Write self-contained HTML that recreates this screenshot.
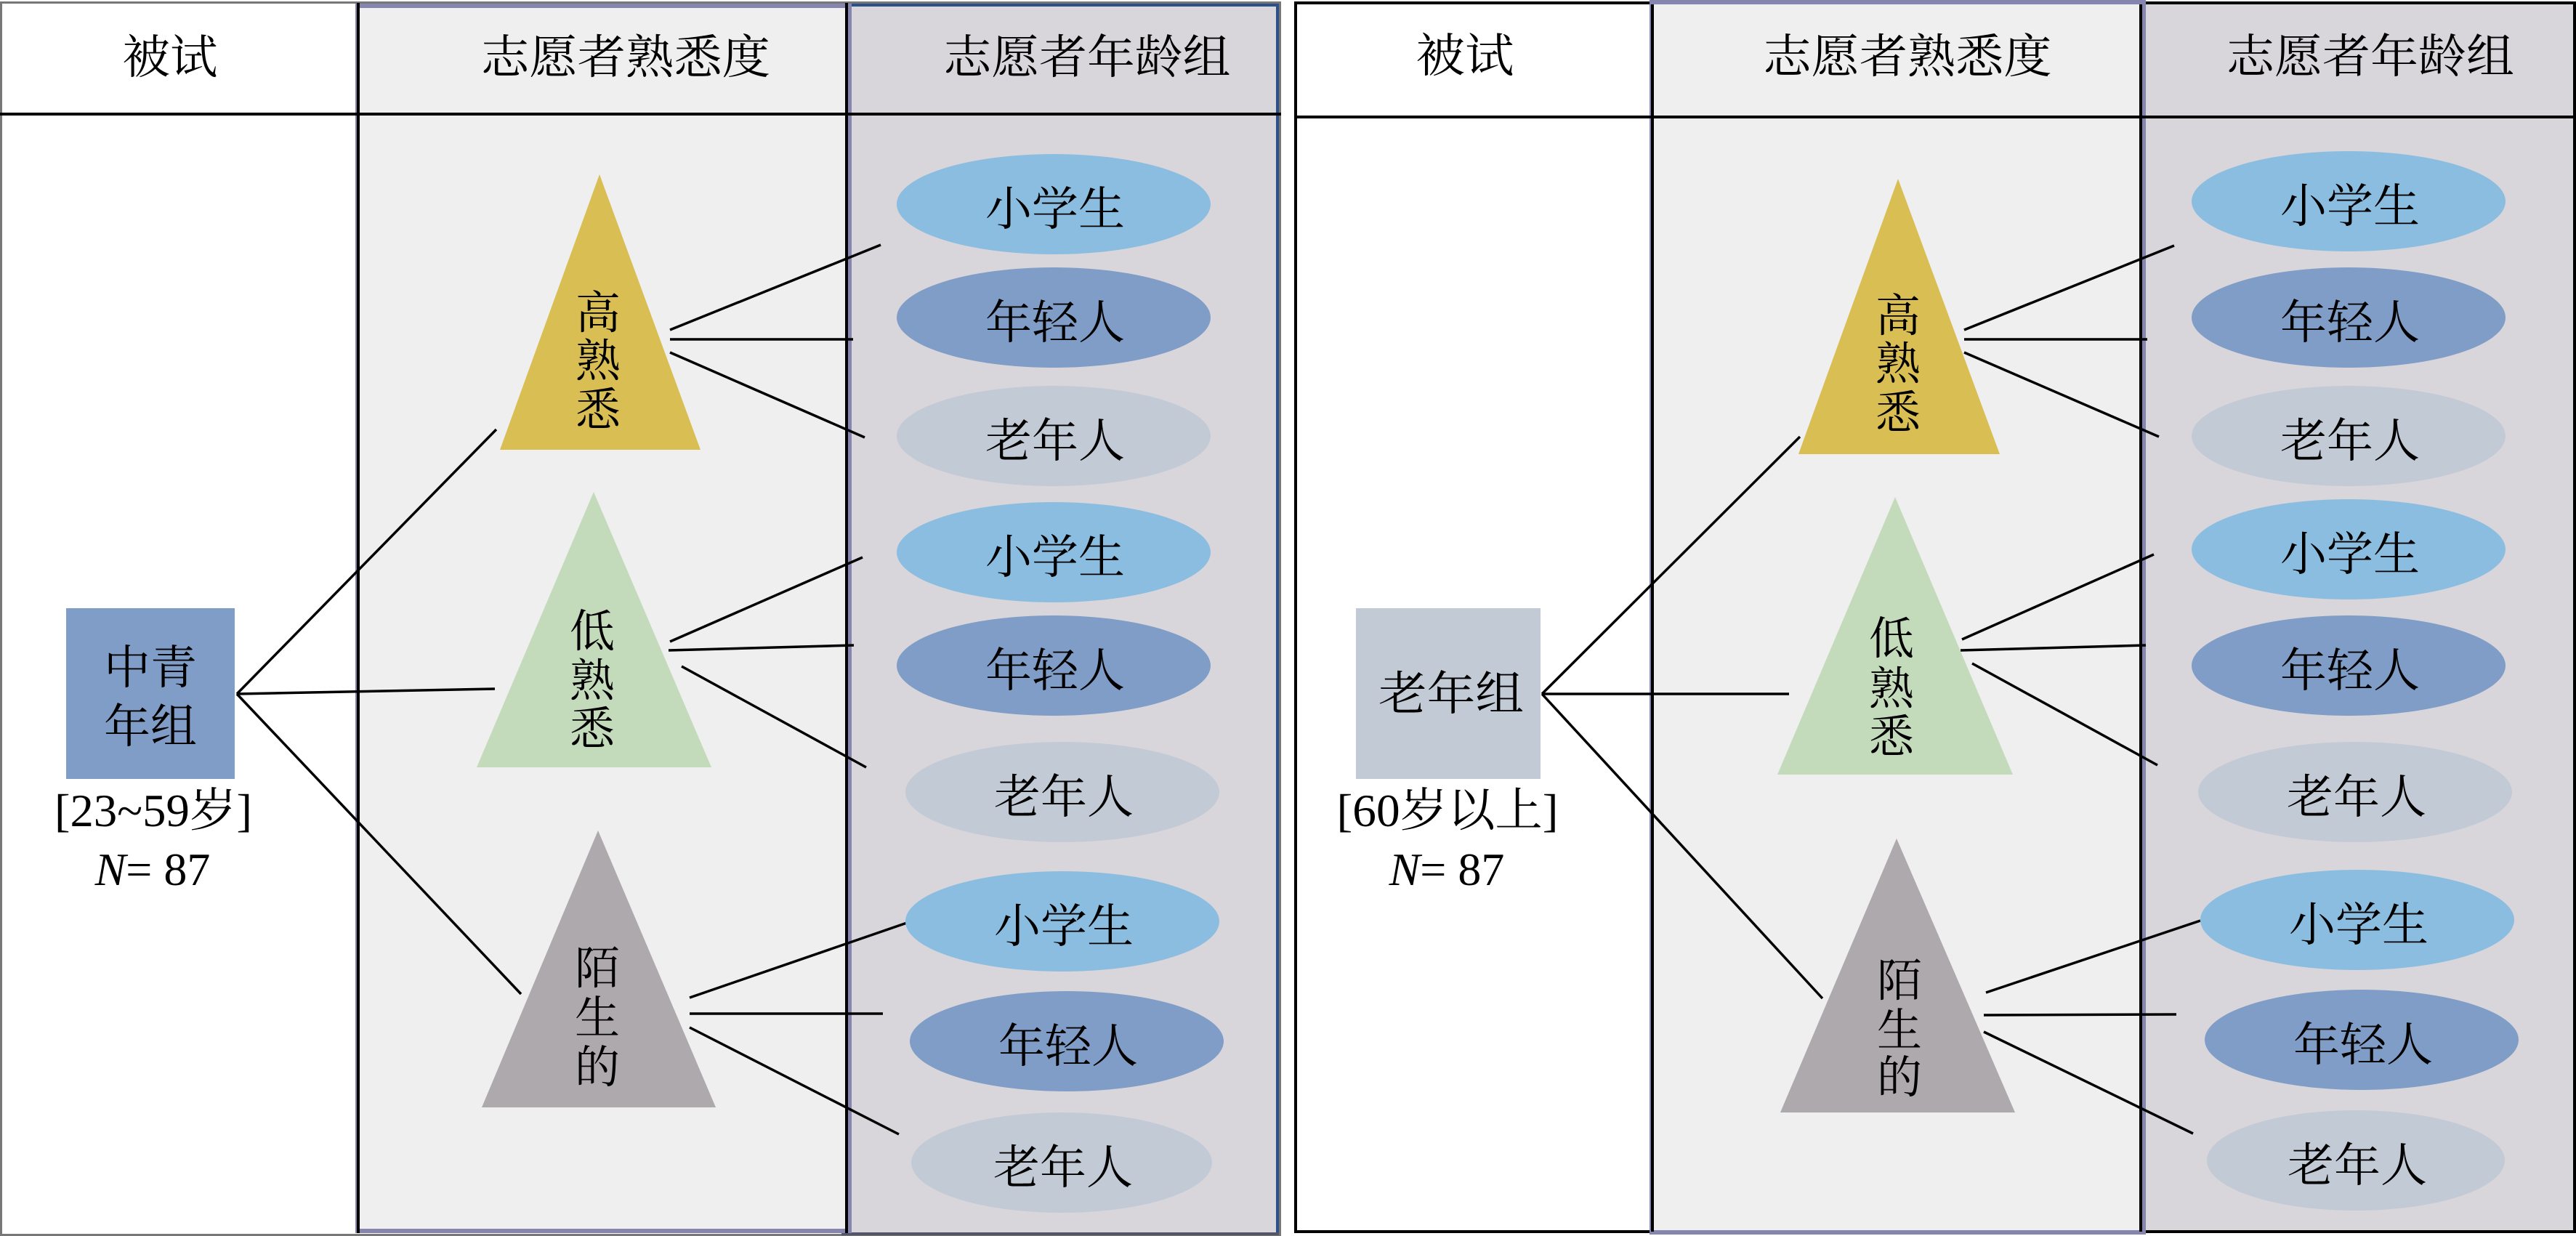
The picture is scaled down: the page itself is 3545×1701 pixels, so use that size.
<!DOCTYPE html>
<html>
<head>
<meta charset="utf-8">
<style>
html,body{margin:0;padding:0;background:#fff;}
svg{display:block;}
.cj{font-family:"Liberation Serif","Noto Serif CJK SC","Noto Sans CJK SC",serif;fill:#000;}
</style>
</head>
<body>
<svg width="3545" height="1701" viewBox="0 0 3545 1701" xmlns="http://www.w3.org/2000/svg">
<rect x="0" y="0" width="3545" height="1701" fill="#ffffff"/>

<!-- ===== LEFT PANEL ===== -->
<rect x="1.5" y="3.5" width="1760" height="1696" fill="#ffffff" stroke="#777777" stroke-width="3"/>
<rect x="1167" y="7" width="591" height="1691" fill="#D8D6DA" stroke="#2E5088" stroke-width="4"/>
<rect x="1158" y="1696" width="602" height="4" fill="#55556A"/>
<rect x="492" y="8" width="677" height="1686" fill="#EFEFEF" stroke="#8585B0" stroke-width="6"/>
<line x1="493" y1="4" x2="493" y2="1697" stroke="#000" stroke-width="4"/>
<line x1="1165" y1="4" x2="1165" y2="1697" stroke="#000" stroke-width="4"/>
<line x1="0" y1="157" x2="1763" y2="157" stroke="#000" stroke-width="4"/>

<!-- headers -->
<text class="cj" x="234" y="101" font-size="64" text-anchor="middle" textLength="131" lengthAdjust="spacingAndGlyphs">被试</text>
<text class="cj" x="861" y="101" font-size="64" text-anchor="middle" textLength="398" lengthAdjust="spacingAndGlyphs">志愿者熟悉度</text>
<text class="cj" x="1496" y="101" font-size="64" text-anchor="middle" textLength="395" lengthAdjust="spacingAndGlyphs">志愿者年龄组</text>

<!-- connectors -->
<g stroke="#000" stroke-width="3.5" fill="none">
<line x1="326" y1="955" x2="683" y2="591"/>
<line x1="326" y1="955" x2="681" y2="948"/>
<line x1="326" y1="955" x2="717" y2="1368"/>
<line x1="922" y1="454" x2="1212" y2="337"/>
<line x1="922" y1="467" x2="1174" y2="467"/>
<line x1="922" y1="485" x2="1190" y2="602"/>
<line x1="922" y1="883" x2="1187" y2="767"/>
<line x1="920" y1="895" x2="1175" y2="888"/>
<line x1="938" y1="917" x2="1192" y2="1056"/>
<line x1="949" y1="1373" x2="1251" y2="1269"/>
<line x1="949" y1="1395" x2="1215" y2="1395"/>
<line x1="949" y1="1414" x2="1237" y2="1561"/>
</g>

<!-- box -->
<rect x="91" y="837" width="232" height="235" fill="#7F9DC6"/>
<text class="cj" x="207" y="941" font-size="64" text-anchor="middle">中青</text>
<text class="cj" x="207" y="1022" font-size="64" text-anchor="middle">年组</text>
<text class="cj" x="211" y="1137" font-size="64" text-anchor="middle" textLength="272" lengthAdjust="spacingAndGlyphs">[23~59岁]</text>
<text class="cj" x="210" y="1218" font-size="64" text-anchor="middle"><tspan font-style="italic">N</tspan>= 87</text>

<!-- triangles -->
<polygon points="825,240 688,619 964,619" fill="#D9BE54"/>
<polygon points="817,677 656,1056 979,1056" fill="#C3DBBB"/>
<polygon points="823,1143 663,1524 985,1524" fill="#ADA9AC"/>
<g class="cj" font-size="62" text-anchor="middle">
<text x="823" y="452">高</text>
<text x="823" y="518">熟</text>
<text x="823" y="585">悉</text>
<text x="815" y="890">低</text>
<text x="815" y="958">熟</text>
<text x="815" y="1024">悉</text>
<text x="822" y="1354">陌</text>
<text x="822" y="1422">生</text>
<text x="822" y="1490">的</text>
</g>

<!-- ellipses -->
<ellipse cx="1450" cy="281" rx="216" ry="69" fill="#8BBDE0"/>
<ellipse cx="1450" cy="437" rx="216" ry="69" fill="#7F9DC6"/>
<ellipse cx="1450" cy="600" rx="216" ry="69" fill="#C2CAD6"/>
<ellipse cx="1450" cy="760" rx="216" ry="69" fill="#8BBDE0"/>
<ellipse cx="1450" cy="916" rx="216" ry="69" fill="#7F9DC6"/>
<ellipse cx="1462" cy="1090" rx="216" ry="69" fill="#C2CAD6"/>
<ellipse cx="1462" cy="1268" rx="216" ry="69" fill="#8BBDE0"/>
<ellipse cx="1468" cy="1433" rx="216" ry="69" fill="#7F9DC6"/>
<ellipse cx="1461" cy="1600" rx="207" ry="69" fill="#C2CAD6"/>
<g class="cj" font-size="64" text-anchor="middle">
<text x="1452" y="310">小学生</text>
<text x="1452" y="466">年轻人</text>
<text x="1452" y="629">老年人</text>
<text x="1452" y="789">小学生</text>
<text x="1452" y="945">年轻人</text>
<text x="1464" y="1119">老年人</text>
<text x="1464" y="1297">小学生</text>
<text x="1470" y="1462">年轻人</text>
<text x="1463" y="1629">老年人</text>
</g>

<!-- ===== RIGHT PANEL ===== -->
<rect x="1783" y="4" width="1760" height="1691" fill="#ffffff" stroke="#000" stroke-width="4"/>
<rect x="2948" y="6" width="593" height="1687" fill="#D8D6DA"/>
<rect x="2273" y="3" width="677" height="1693" fill="#EFEFEF" stroke="#8585B0" stroke-width="6"/>
<line x1="2274" y1="6" x2="2274" y2="1695" stroke="#000" stroke-width="4"/>
<line x1="2946" y1="6" x2="2946" y2="1695" stroke="#000" stroke-width="4"/>
<line x1="1781" y1="161" x2="3545" y2="161" stroke="#000" stroke-width="4"/>

<text class="cj" x="2016" y="99" font-size="64" text-anchor="middle" textLength="135" lengthAdjust="spacingAndGlyphs">被试</text>
<text class="cj" x="2625" y="100" font-size="64" text-anchor="middle" textLength="397" lengthAdjust="spacingAndGlyphs">志愿者熟悉度</text>
<text class="cj" x="3262" y="100" font-size="64" text-anchor="middle" textLength="396" lengthAdjust="spacingAndGlyphs">志愿者年龄组</text>

<g stroke="#000" stroke-width="3.5" fill="none">
<line x1="2122" y1="955" x2="2477" y2="601"/>
<line x1="2122" y1="955" x2="2462" y2="955"/>
<line x1="2122" y1="955" x2="2508" y2="1374"/>
<line x1="2703" y1="454" x2="2992" y2="338"/>
<line x1="2703" y1="467" x2="2955" y2="467"/>
<line x1="2703" y1="485" x2="2971" y2="601"/>
<line x1="2700" y1="880" x2="2964" y2="763"/>
<line x1="2698" y1="895" x2="2953" y2="888"/>
<line x1="2714" y1="913" x2="2969" y2="1053"/>
<line x1="2733" y1="1366" x2="3028" y2="1267"/>
<line x1="2730" y1="1397" x2="2995" y2="1396"/>
<line x1="2730" y1="1420" x2="3018" y2="1560"/>
</g>

<rect x="1866" y="837" width="254" height="235" fill="#C2CAD6"/>
<text class="cj" x="1997" y="977" font-size="64" text-anchor="middle" textLength="200" lengthAdjust="spacingAndGlyphs">老年组</text>
<text class="cj" x="1992" y="1137" font-size="64" text-anchor="middle" textLength="305" lengthAdjust="spacingAndGlyphs">[60岁以上]</text>
<text class="cj" x="1991" y="1218" font-size="64" text-anchor="middle"><tspan font-style="italic">N</tspan>= 87</text>

<polygon points="2612,246 2475,625 2752,625" fill="#D9BE54"/>
<polygon points="2608,684 2446,1066 2770,1066" fill="#C3DBBB"/>
<polygon points="2610,1154 2450,1531 2773,1531" fill="#ADA9AC"/>
<g class="cj" font-size="62" text-anchor="middle">
<text x="2612" y="456">高</text>
<text x="2612" y="522">熟</text>
<text x="2612" y="589">悉</text>
<text x="2603" y="900">低</text>
<text x="2603" y="969">熟</text>
<text x="2603" y="1035">悉</text>
<text x="2614" y="1371">陌</text>
<text x="2614" y="1439">生</text>
<text x="2614" y="1504">的</text>
</g>

<ellipse cx="3232" cy="277" rx="216" ry="69" fill="#8BBDE0"/>
<ellipse cx="3232" cy="437" rx="216" ry="69" fill="#7F9DC6"/>
<ellipse cx="3232" cy="600" rx="216" ry="69" fill="#C2CAD6"/>
<ellipse cx="3232" cy="756" rx="216" ry="69" fill="#8BBDE0"/>
<ellipse cx="3232" cy="916" rx="216" ry="69" fill="#7F9DC6"/>
<ellipse cx="3241" cy="1090" rx="216" ry="69" fill="#C2CAD6"/>
<ellipse cx="3244" cy="1266" rx="216" ry="69" fill="#8BBDE0"/>
<ellipse cx="3250" cy="1431" rx="216" ry="69" fill="#7F9DC6"/>
<ellipse cx="3242" cy="1597" rx="205" ry="69" fill="#C2CAD6"/>
<g class="cj" font-size="64" text-anchor="middle">
<text x="3234" y="306">小学生</text>
<text x="3234" y="466">年轻人</text>
<text x="3234" y="629">老年人</text>
<text x="3234" y="785">小学生</text>
<text x="3234" y="945">年轻人</text>
<text x="3243" y="1119">老年人</text>
<text x="3246" y="1295">小学生</text>
<text x="3252" y="1460">年轻人</text>
<text x="3244" y="1626">老年人</text>
</g>
</svg>
</body>
</html>
